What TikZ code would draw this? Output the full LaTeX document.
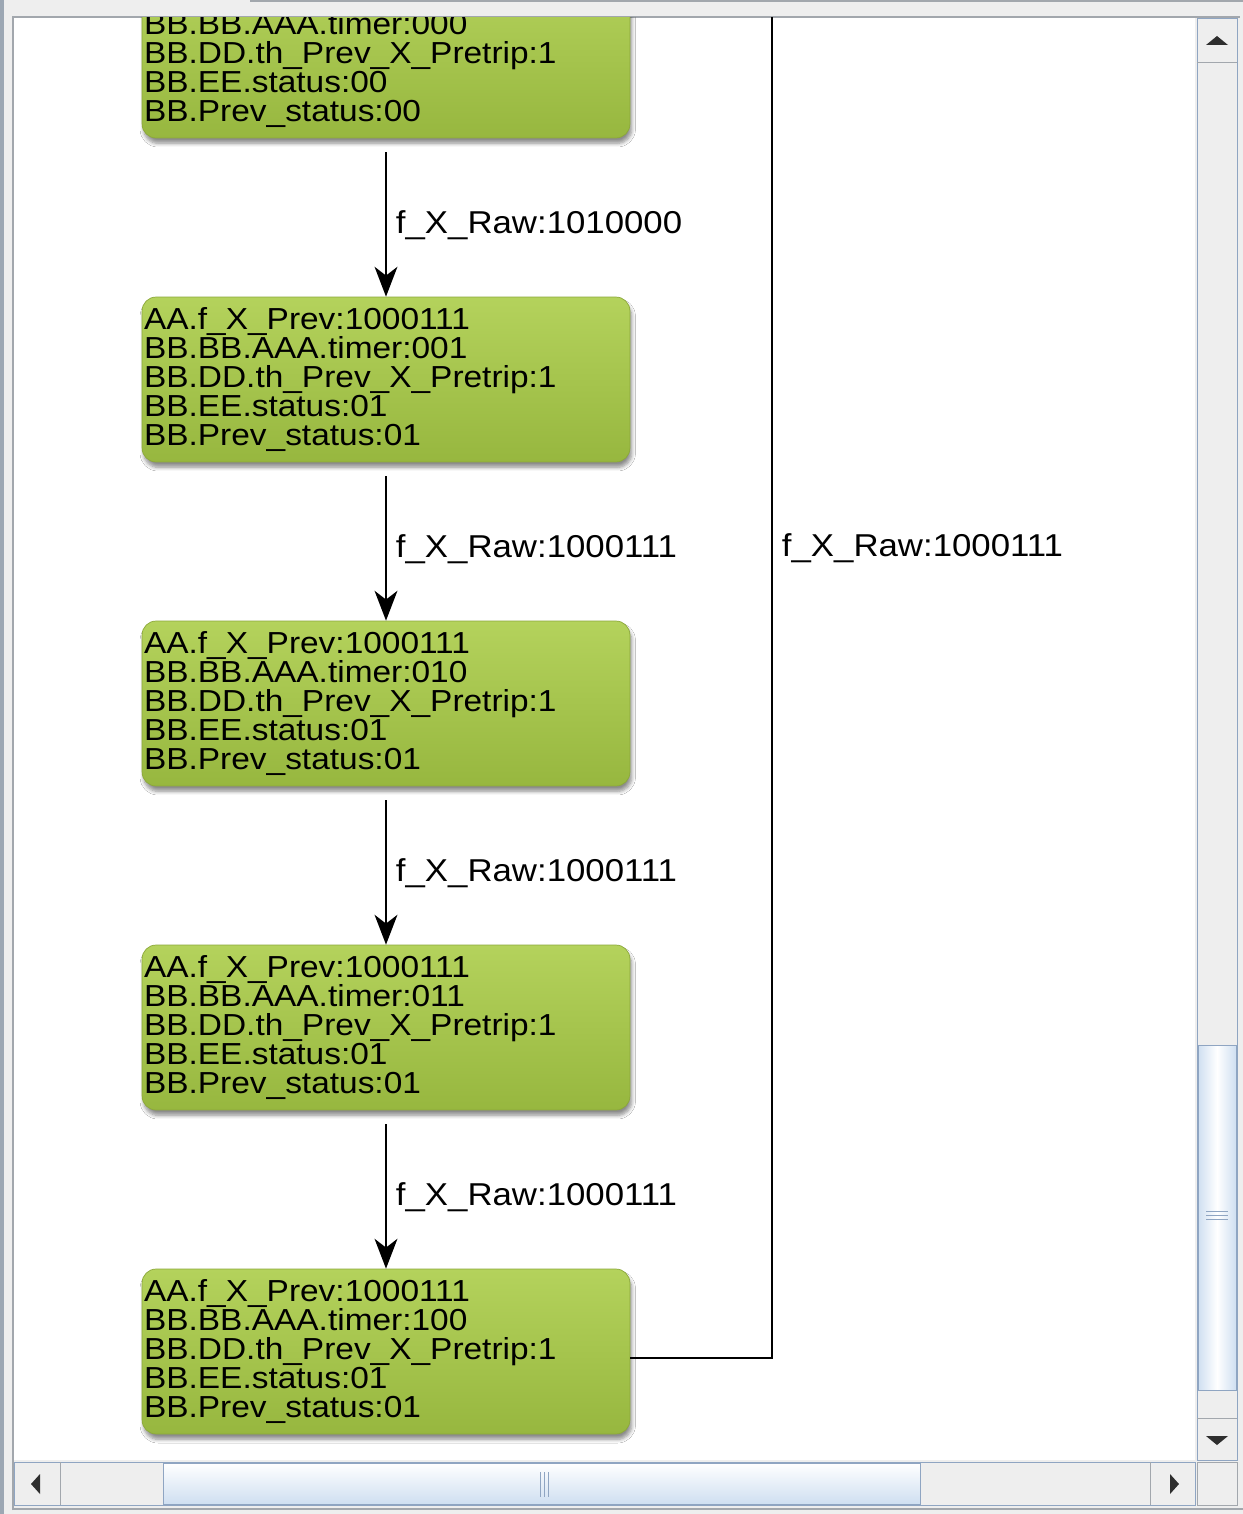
\documentclass[tikz,border=0pt]{standalone}
\usepackage{fontspec}
\setmainfont{Liberation Sans}[FakeStretch=1.1]
\usetikzlibrary{arrows.meta,shadows.blur}
\definecolor{stTop}{HTML}{B4D25C}
\definecolor{stBot}{HTML}{97B73F}
\definecolor{stEdge}{HTML}{8CA83A}
\definecolor{winGrey}{HTML}{EEEEEE}
\definecolor{winLine}{HTML}{A2A7AD}
\definecolor{sbEdge}{HTML}{8FA5C2}
\definecolor{sbThumb}{HTML}{CFDFF1}
\definecolor{sbDark}{HTML}{2E2E2E}

\begin{document}
\begin{tikzpicture}[x=0.02cm,y=-0.02cm,font=\fontsize{17.3}{16.5}\selectfont,
      st/.style={rounded corners=8pt,top color=stTop,bottom color=stBot,draw=stEdge,line width=0.4pt,
                 text width=9.68cm,minimum height=3.3cm,inner xsep=0.04cm,inner ysep=0pt,align=left,
                 blur shadow={shadow xshift=1pt,shadow yshift=-3pt,shadow blur steps=6,shadow opacity=45}},
      lb/.style={right,inner sep=0pt,xshift=0.18cm,font=\fontsize{18}{18}\selectfont},
      tr/.style={-{Stealth[length=17pt,width=13pt,inset=5pt]},line width=1.1pt,shorten <=0.28cm}]
    \useasboundingbox (0,0) rectangle (1243,1514);
    % window frame
    \fill[winGrey] (0,0) rectangle (1243,1514);
    \fill[winLine!70!sbEdge] (0,0) rectangle (4,1514);
    \draw[winLine,line width=1.2pt] (250,1) -- (1243,1);
    \fill[white] (14,18) rectangle (1195,1460);
    \draw[winLine,line width=1.2pt] (13,1510) |- (1240,17);
    \draw[winLine,line width=0.8pt] (13,1509) -- (1243,1509);
    % vertical scrollbar
    \draw[sbEdge,fill=winGrey] (1197,18) rectangle (1237,1460);
    \draw[winLine] (1197,62) -- (1237,62);
    \draw[winLine] (1197,1418) -- (1237,1418);
    \draw[sbEdge,left color=sbThumb,right color=sbThumb,middle color=white] (1198,1045) rectangle (1236,1390);
    \foreach \y in {1211,1215,1219}
      \draw[sbEdge] (1206,\y) -- (1228,\y);
    \fill[sbDark] (1206,45) -- (1228,45) -- (1217,36) -- cycle;
    \fill[sbDark] (1206,1436) -- (1228,1436) -- (1217,1445) -- cycle;
    % horizontal scrollbar
    \draw[sbEdge,fill=winGrey] (14,1462) rectangle (1195,1505);
    \draw[winLine] (60,1462) -- (60,1505);
    \draw[winLine] (1150,1462) -- (1150,1505);
    \draw[sbEdge,top color=white,bottom color=sbThumb] (163,1463) rectangle (920,1504);
    \foreach \x in {540,544,548}
      \draw[sbEdge] (\x,1472) -- (\x,1497);
    \fill[sbDark] (40,1474) -- (40,1494) -- (31,1484) -- cycle;
    \fill[sbDark] (1170,1474) -- (1170,1494) -- (1179,1484) -- cycle;
    \draw[winLine,fill=winGrey] (1197,1462) rectangle (1237,1505);

    \begin{scope}
      \clip (14,18) rectangle (1195,1460);
      \node[st] (s1) at (386,55.5)   {\phantom{AA.f\_X\_Prev:1000111}\\BB.BB.AAA.timer:000\\BB.DD.th\_Prev\_X\_Pretrip:1\\BB.EE.status:00\\BB.Prev\_status:00};
      \node[st] (s2) at (386,379.5)  {AA.f\_X\_Prev:1000111\\BB.BB.AAA.timer:001\\BB.DD.th\_Prev\_X\_Pretrip:1\\BB.EE.status:01\\BB.Prev\_status:01};
      \node[st] (s3) at (386,703.5)  {AA.f\_X\_Prev:1000111\\BB.BB.AAA.timer:010\\BB.DD.th\_Prev\_X\_Pretrip:1\\BB.EE.status:01\\BB.Prev\_status:01};
      \node[st] (s4) at (386,1027.5) {AA.f\_X\_Prev:1000111\\BB.BB.AAA.timer:011\\BB.DD.th\_Prev\_X\_Pretrip:1\\BB.EE.status:01\\BB.Prev\_status:01};
      \node[st] (s5) at (386,1351.5) {AA.f\_X\_Prev:1000111\\BB.BB.AAA.timer:100\\BB.DD.th\_Prev\_X\_Pretrip:1\\BB.EE.status:01\\BB.Prev\_status:01};
      \coordinate (back) at (772,-262);

      \foreach \a/\b/\v in {s1/s2/1010000,s2/s3/1000111,s3/s4/1000111,s4/s5/1000111}
        \draw[tr] (\a) -- node[lb,yshift=-0.16cm]{f\_X\_Raw:\v} (\b);
      \draw[line width=1.1pt] ([yshift=-0.13cm]s5.east) -| node[lb,pos=0.75]{f\_X\_Raw:1000111} (back);
    \end{scope}
  \end{tikzpicture}
\end{document}
